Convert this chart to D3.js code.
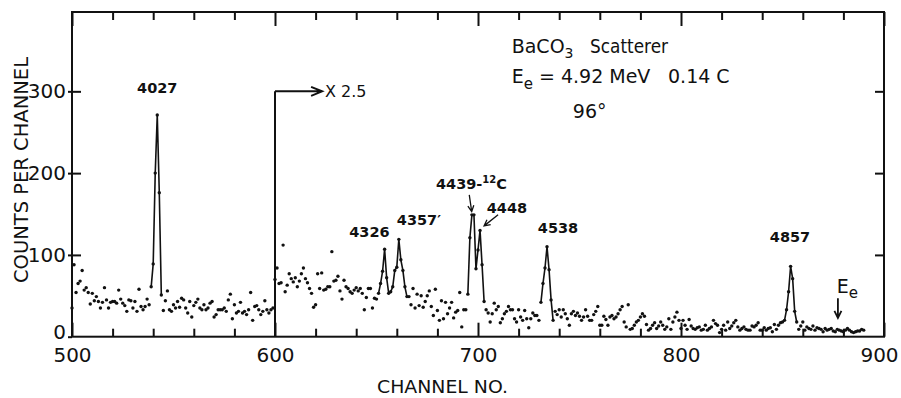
<!DOCTYPE html>
<html>
<head>
<meta charset="utf-8">
<script src="https://cdn.jsdelivr.net/npm/d3@7"></script>
<style>
  body { margin: 0; background: #fff; }
  svg text { font-family: "DejaVu Sans", sans-serif; fill: #111; }
</style>
</head>
<body>
<svg id="chart" width="901" height="398"></svg>
<script>
// channels 500..599, counts as measured
const firstChannel = 500;
const countsLow = [
  35, 88, 54, 65, 68, 81, 57, 60, 54, 40,
  53, 44, 49, 43, 35, 42, 60, 45, 35, 42,
  43, 43, 41, 57, 46, 41, 38, 31, 45, 44,
  35, 43, 31, 58, 37, 33, 37, 46, 39, 61,
  89, 200, 271, 176, 51, 32, 44, 56, 33, 31,
  39, 35, 43, 36, 47, 45, 35, 29, 43, 24,
  38, 42, 46, 35, 33, 39, 33, 35, 41, 43,
  24, 27, 33, 33, 33, 35, 31, 45, 52, 22,
  39, 29, 31, 42, 29, 31, 27, 33, 54, 20,
  37, 38, 33, 27, 31, 44, 33, 29, 33, 35
];
// channels 600..890, plotted x 2.5
const countsHigh = [
  70, 84, 65, 66, 112, 55, 63, 77, 71, 67,
  72, 61, 68, 77, 84, 71, 66, 59, 53, 36,
  39, 77, 59, 78, 57, 58, 61, 61, 104, 68,
  69, 74, 56, 46, 69, 61, 59, 55, 53, 57,
  60, 56, 59, 53, 33, 48, 59, 59, 35, 47,
  46, 53, 65, 80, 107, 72, 53, 55, 61, 81,
  85, 119, 94, 81, 61, 49, 49, 39, 59, 35,
  52, 38, 50, 36, 43, 50, 56, 37, 26, 58,
  32, 20, 44, 22, 42, 28, 35, 42, 23, 30,
  32, 54, 12, 33, 33, 52, 121, 149, 149, 83,
  106, 130, 88, 43, 33, 29, 18, 28, 41, 33,
  37, 17, 22, 28, 31, 37, 33, 33, 22, 18,
  33, 24, 20, 32, 22, 11, 22, 29, 26, 26,
  20, 42, 65, 84, 110, 82, 45, 20, 31, 27,
  33, 24, 33, 28, 22, 14, 28, 31, 26, 29,
  25, 20, 24, 33, 25, 20, 20, 27, 31, 37,
  14, 14, 25, 21, 14, 24, 26, 22, 24, 28,
  33, 37, 18, 12, 39, 9, 10, 14, 18, 20,
  24, 28, 25, 15, 8, 10, 14, 17, 10, 13,
  18, 14, 9, 12, 22, 9, 18, 24, 30, 20,
  10, 20, 14, 9, 21, 13, 10, 9, 11, 12,
  8, 9, 14, 8, 10, 12, 20, 16, 14, 5,
  9, 14, 8, 18, 10, 13, 17, 20, 12, 8,
  10, 12, 9, 8, 8, 13, 12, 14, 17, 8,
  8, 11, 8, 10, 11, 6, 15, 9, 14, 17,
  18, 20, 33, 55, 86, 71, 31, 18, 9, 13,
  18, 8, 12, 10, 9, 13, 8, 11, 10, 9,
  6, 10, 8, 9, 10, 7, 6, 9, 8, 7,
  6, 8, 10, 8, 6, 5, 6, 7, 7, 9,
  8
];
// channel ranges joined by a line through the peaks
const peakLines = [[539, 544], [651, 665], [695, 703], [731, 737], [851, 857]];

const xMajorTicks = [500, 600, 700, 800, 900];
const xMinorTicks = d3.range(520, 900, 20).filter(d => d % 100 !== 0);
const yTicks = [0, 100, 200, 300];

const peakLabels = [
  { text: '4027', ch: 542, cnt: 298, anchor: 'middle' },
  { text: '4326', ch: 646.5, cnt: 122, anchor: 'middle' },
  { text: '4357\u2032', ch: 660, cnt: 137, anchor: 'start' },
  { text: '4448', ch: 704.3, cnt: 151, anchor: 'start' },
  { text: '4538', ch: 739.4, cnt: 127, anchor: 'middle' },
  { text: '4857', ch: 853.7, cnt: 115.5, anchor: 'middle' }
];

const svg = d3.select('#chart');
const margin = { top: 12, right: 17, bottom: 61.3, left: 72 };
const W = 901, H = 398;

const x = d3.scaleLinear().domain([500, 900]).range([margin.left, W - margin.right]);
const y = d3.scaleLinear().domain([0, 397]).range([H - margin.bottom, margin.top]);

const points = countsLow.map((v, i) => ({ ch: firstChannel + i, v }))
  .concat(countsHigh.map((v, i) => ({ ch: 600 + i, v })));

// frame
svg.append('rect')
  .attr('x', x(500)).attr('y', y(397))
  .attr('width', x(900) - x(500)).attr('height', y(0) - y(397))
  .attr('fill', 'none').attr('stroke', '#111').attr('stroke-width', 2);

function styleAxis(g) {
  g.select('.domain').remove();
  g.selectAll('line').attr('stroke', '#111').attr('stroke-width', 2);
  g.attr('font-family', null).attr('font-size', null);
}

// bottom
svg.append('g').attr('transform', `translate(0,${y(0)})`)
  .call(d3.axisBottom(x).tickValues(xMajorTicks).tickSize(-14).tickPadding(11).tickFormat(d3.format('d')))
  .call(styleAxis)
  .call(g => g.selectAll('text').style('font-size', '20px'))
  .call(g => g.selectAll('text').filter(d => d === 900).attr('dx', -5));
svg.append('g').attr('transform', `translate(0,${y(0)})`)
  .call(d3.axisBottom(x).tickValues(xMinorTicks).tickSize(-8).tickFormat(''))
  .call(styleAxis);
// top
svg.append('g').attr('transform', `translate(0,${y(397)})`)
  .call(d3.axisTop(x).tickValues(xMajorTicks).tickSize(-14).tickFormat(''))
  .call(styleAxis);
svg.append('g').attr('transform', `translate(0,${y(397)})`)
  .call(d3.axisTop(x).tickValues(xMinorTicks).tickSize(-8).tickFormat(''))
  .call(styleAxis);
// left
svg.append('g').attr('transform', `translate(${x(500)},0)`)
  .call(d3.axisLeft(y).tickValues(yTicks).tickSize(4).tickPadding(2))
  .call(styleAxis)
  .call(g => g.selectAll('text').style('font-size', '20px'))
  .call(g => g.selectAll('text').filter(d => d === 0).attr('dy', '0.1em'));
svg.append('g').attr('transform', `translate(${x(500)},0)`)
  .call(d3.axisRight(y).tickValues(yTicks.slice(1)).tickSize(9).tickFormat(''))
  .call(styleAxis);
// right
svg.append('g').attr('transform', `translate(${x(900)},0)`)
  .call(d3.axisLeft(y).tickValues(yTicks.slice(1)).tickSize(9).tickFormat(''))
  .call(styleAxis);

// axis titles
svg.append('text')
  .attr('transform', 'translate(28,170) rotate(-90)')
  .attr('text-anchor', 'middle')
  .style('font-size', '20px')
  .attr('textLength', 226).attr('lengthAdjust', 'spacingAndGlyphs')
  .text('COUNTS PER CHANNEL');
svg.append('text')
  .attr('x', 442.5).attr('y', 393)
  .attr('text-anchor', 'middle')
  .style('font-size', '18px')
  .attr('textLength', 131).attr('lengthAdjust', 'spacingAndGlyphs')
  .text('CHANNEL  NO.');

// lines through peaks
const line = d3.line().x(d => x(d.ch)).y(d => y(d.v));
peakLines.forEach(([a, b]) => {
  svg.append('path')
    .datum(points.filter(p => p.ch >= a && p.ch <= b))
    .attr('d', line)
    .attr('fill', 'none').attr('stroke', '#111').attr('stroke-width', 1.6);
});

// dots
svg.append('g').selectAll('circle')
  .data(points)
  .join('circle')
  .attr('cx', d => x(d.ch)).attr('cy', d => y(d.v))
  .attr('r', 1.7).attr('fill', '#111');

// arrows
function arrow(c1, v1, c2, v2, len, half, w) {
  const x1 = x(c1), y1 = y(v1), x2 = x(c2), y2 = y(v2);
  const a = Math.atan2(y2 - y1, x2 - x1);
  const bx = x2 - len * Math.cos(a), by = y2 - len * Math.sin(a);
  const px = -Math.sin(a) * half, py = Math.cos(a) * half;
  svg.append('path')
    .attr('d', `M${x1},${y1}L${x2},${y2}M${bx + px},${by + py}L${x2},${y2}L${bx - px},${by - py}`)
    .attr('fill', 'none').attr('stroke', '#111').attr('stroke-width', w);
}

// x 2.5 marker
svg.append('path')
  .attr('d', `M${x(600)},${y(0)}V${y(300)}`)
  .attr('stroke', '#111').attr('stroke-width', 2).attr('fill', 'none');
arrow(600, 300, 623.2, 300, 11, 4.5, 2);
svg.append('text')
  .attr('x', x(624.6)).attr('y', y(293.4))
  .style('font-size', '16px')
  .text('X 2.5');

// peak labels
svg.append('g').selectAll('text')
  .data(peakLabels)
  .join('text')
  .attr('x', d => x(d.ch)).attr('y', d => y(d.cnt))
  .attr('text-anchor', d => d.anchor)
  .style('font-size', '14.5px').style('font-weight', 'bold')
  .text(d => d.text);

const c12 = svg.append('text')
  .attr('x', x(679.3)).attr('y', y(181))
  .style('font-size', '14.5px').style('font-weight', 'bold');
c12.append('tspan').text('4439-');
c12.append('tspan').attr('dy', -6).style('font-size', '10px').text('12');
c12.append('tspan').attr('dy', 6).text('C');

arrow(695.7, 173.4, 696.9, 153, 6, 3, 1.3);
arrow(709.9, 149, 703, 135.5, 6, 3, 1.3);

// beam energy marker
const ee = svg.append('text')
  .attr('x', x(876.7)).attr('y', y(54))
  .style('font-size', '19px');
ee.append('tspan').text('E');
ee.append('tspan').attr('dy', 5).style('font-size', '15px').text('e');
arrow(877.3, 47, 877.3, 23, 7, 3.5, 1.8);

// run info
const t1 = svg.append('text')
  .attr('x', x(716.6)).attr('y', y(347))
  .style('font-size', '19px');
t1.append('tspan').text('BaCO');
t1.append('tspan').attr('dy', 5).style('font-size', '14px').text('3');
svg.append('text')
  .attr('x', x(755.2)).attr('y', y(347))
  .style('font-size', '19px')
  .attr('textLength', 78).attr('lengthAdjust', 'spacingAndGlyphs')
  .text('Scatterer');

const t2 = svg.append('text')
  .attr('x', x(716.6)).attr('y', y(310))
  .style('font-size', '19px');
t2.append('tspan').text('E');
t2.append('tspan').attr('dy', 6).style('font-size', '15px').text('e');
t2.append('tspan').attr('dy', -6).text(' = 4.92 MeV');
svg.append('text')
  .attr('x', x(793.6)).attr('y', y(310))
  .style('font-size', '19px')
  .text('0.14  C');

svg.append('text')
  .attr('x', x(755)).attr('y', y(267.7))
  .attr('text-anchor', 'middle')
  .style('font-size', '19px')
  .text('96°');
</script>
</body>
</html>
